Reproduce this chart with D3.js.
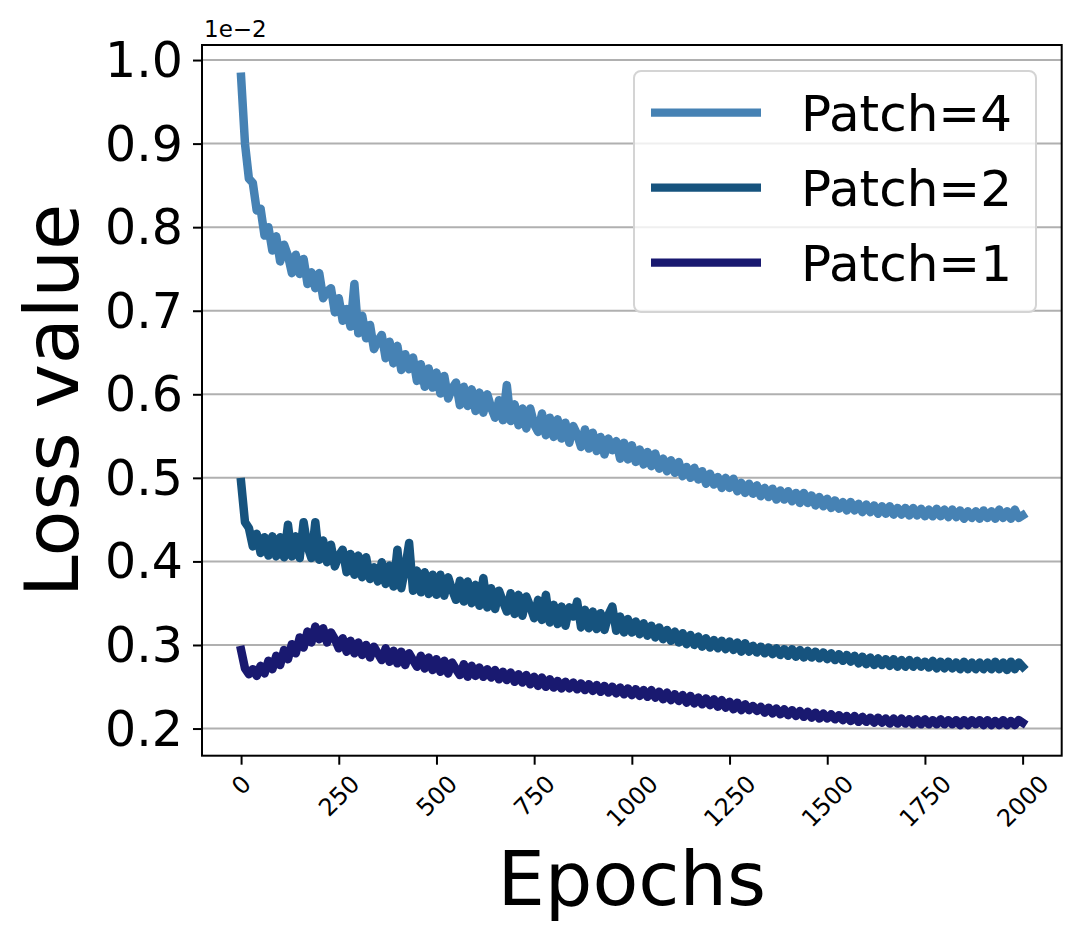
<!DOCTYPE html>
<html>
<head>
<meta charset="utf-8">
<script src="https://cdn.jsdelivr.net/npm/d3@7"></script>
<style>
  html, body { margin: 0; padding: 0; background: #fff; }
  svg { display: block; font-family: "DejaVu Sans", sans-serif; }
</style>
</head>
<body>
<svg id="chart" width="1080" height="941"></svg>
<script>
// ---- Data (loss values in units of 1e-2), sampled every 10 epochs ----
const epochStep = 10;
const seriesNames = ["Patch=4", "Patch=2", "Patch=1"];
const seriesColors = ["#4682b4", "#16537e", "#191970"];

const patch4 = [
0.980,0.900,0.858,0.853,0.820,0.822,0.790,0.800,0.772,0.789,
0.759,0.779,0.766,0.745,0.767,0.744,0.762,0.732,0.746,0.727,
0.745,0.715,0.723,0.727,0.698,0.715,0.688,0.702,0.681,0.732,
0.673,0.694,0.667,0.683,0.654,0.664,0.671,0.643,0.663,0.637,
0.658,0.629,0.648,0.630,0.644,0.616,0.636,0.609,0.631,0.608,
0.626,0.601,0.622,0.595,0.607,0.614,0.587,0.609,0.586,0.606,
0.580,0.602,0.578,0.600,0.584,0.572,0.593,0.569,0.611,0.568,
0.588,0.563,0.583,0.559,0.583,0.564,0.555,0.577,0.551,0.572,
0.549,0.570,0.547,0.566,0.542,0.562,0.552,0.537,0.558,0.535,
0.554,0.532,0.549,0.528,0.547,0.533,0.544,0.523,0.542,0.522,
0.539,0.519,0.534,0.516,0.531,0.514,0.529,0.511,0.523,0.508,
0.521,0.506,0.519,0.502,0.513,0.500,0.512,0.498,0.508,0.493,
0.505,0.492,0.501,0.488,0.500,0.488,0.499,0.484,0.494,0.482,
0.493,0.481,0.491,0.478,0.488,0.477,0.487,0.474,0.485,0.474,
0.484,0.472,0.482,0.470,0.482,0.470,0.479,0.467,0.477,0.466,
0.475,0.464,0.473,0.463,0.471,0.461,0.471,0.461,0.469,0.459,
0.468,0.459,0.467,0.457,0.466,0.457,0.466,0.456,0.464,0.456,
0.464,0.455,0.464,0.455,0.463,0.454,0.462,0.454,0.463,0.454,
0.462,0.453,0.462,0.453,0.461,0.451,0.460,0.452,0.460,0.451,
0.461,0.452,0.460,0.451,0.462,0.452,0.460,0.451,0.462,0.452,
0.455];

const patch2 = [
0.495,0.447,0.440,0.418,0.433,0.410,0.429,0.407,0.430,0.406,
0.429,0.405,0.444,0.406,0.430,0.404,0.447,0.418,0.404,0.447,
0.402,0.425,0.399,0.420,0.394,0.407,0.414,0.387,0.409,0.384,
0.407,0.381,0.405,0.379,0.393,0.376,0.399,0.373,0.395,0.370,
0.414,0.368,0.392,0.422,0.365,0.389,0.363,0.387,0.361,0.384,
0.360,0.384,0.359,0.381,0.366,0.354,0.377,0.352,0.376,0.350,
0.372,0.347,0.380,0.345,0.368,0.343,0.365,0.352,0.340,0.362,
0.337,0.360,0.335,0.358,0.346,0.332,0.354,0.330,0.360,0.327,
0.348,0.325,0.346,0.323,0.345,0.334,0.352,0.321,0.342,0.320,
0.340,0.319,0.338,0.318,0.336,0.346,0.317,0.334,0.315,0.331,
0.315,0.328,0.313,0.326,0.311,0.323,0.309,0.321,0.307,0.318,
0.305,0.316,0.303,0.314,0.301,0.312,0.300,0.310,0.298,0.308,
0.297,0.306,0.296,0.305,0.295,0.304,0.294,0.303,0.292,0.302,
0.292,0.299,0.291,0.298,0.290,0.297,0.289,0.296,0.288,0.295,
0.287,0.295,0.286,0.294,0.285,0.293,0.285,0.292,0.284,0.291,
0.283,0.290,0.282,0.289,0.281,0.288,0.280,0.287,0.278,0.286,
0.277,0.285,0.276,0.284,0.276,0.283,0.275,0.283,0.274,0.282,
0.274,0.282,0.274,0.281,0.274,0.280,0.273,0.281,0.272,0.280,
0.272,0.280,0.272,0.279,0.271,0.280,0.271,0.279,0.271,0.279,
0.271,0.279,0.271,0.280,0.271,0.279,0.270,0.280,0.271,0.279,
0.274];

const patch1 = [
0.294,0.272,0.265,0.271,0.263,0.275,0.266,0.281,0.271,0.287,
0.276,0.294,0.283,0.301,0.290,0.309,0.297,0.316,0.303,0.322,
0.307,0.320,0.303,0.315,0.307,0.296,0.308,0.292,0.305,0.290,
0.303,0.288,0.300,0.285,0.298,0.290,0.282,0.296,0.280,0.293,
0.278,0.292,0.276,0.290,0.282,0.274,0.287,0.272,0.285,0.270,
0.283,0.268,0.281,0.266,0.279,0.271,0.264,0.277,0.262,0.275,
0.263,0.273,0.262,0.271,0.261,0.270,0.259,0.268,0.258,0.267,
0.256,0.265,0.255,0.264,0.253,0.262,0.251,0.261,0.250,0.259,
0.249,0.257,0.248,0.256,0.248,0.255,0.247,0.254,0.246,0.253,
0.245,0.252,0.244,0.251,0.243,0.250,0.242,0.249,0.241,0.248,
0.240,0.247,0.239,0.246,0.238,0.246,0.237,0.244,0.235,0.243,
0.234,0.241,0.233,0.240,0.231,0.239,0.230,0.237,0.229,0.236,
0.228,0.235,0.226,0.234,0.225,0.232,0.223,0.231,0.222,0.229,
0.222,0.227,0.221,0.226,0.219,0.225,0.218,0.224,0.217,0.223,
0.216,0.222,0.215,0.221,0.214,0.220,0.213,0.219,0.212,0.218,
0.212,0.217,0.211,0.216,0.210,0.215,0.209,0.215,0.208,0.214,
0.208,0.213,0.207,0.213,0.207,0.212,0.206,0.212,0.206,0.212,
0.206,0.211,0.205,0.211,0.205,0.211,0.205,0.210,0.205,0.211,
0.205,0.210,0.205,0.210,0.204,0.210,0.204,0.210,0.205,0.210,
0.204,0.210,0.204,0.209,0.204,0.210,0.204,0.209,0.204,0.210,
0.207];

const xTicks = [0, 250, 500, 750, 1000, 1250, 1500, 1750, 2000];
const yTicks = [0.2, 0.3, 0.4, 0.5, 0.6, 0.7, 0.8, 0.9, 1.0];
const yOffsetLabel = "1e\u22122";
const xLabel = "Epochs";
const yLabel = "Loss value";

// ---- Layout ----
const plot = { left: 202, top: 45, right: 1061.7, bottom: 755.7 };
const svg = d3.select("#chart");

const x = d3.scaleLinear().domain([-100, 2100]).range([plot.left, plot.right]);
const y = d3.scaleLinear().domain([0.1675, 1.018]).range([plot.bottom, plot.top]);

// grid
svg.append("g").selectAll("line").data(yTicks).join("line")
  .attr("x1", plot.left).attr("x2", plot.right)
  .attr("y1", d => y(d)).attr("y2", d => y(d))
  .attr("stroke", "#b0b0b0").attr("stroke-width", 2);

// clip
svg.append("clipPath").attr("id", "clip").append("rect")
  .attr("x", plot.left).attr("y", plot.top)
  .attr("width", plot.right - plot.left).attr("height", plot.bottom - plot.top);

const seriesData = [patch4, patch2, patch1];
const line = d3.line().x((d, i) => x(i * epochStep)).y(d => y(d));
const linesG = svg.append("g").attr("clip-path", "url(#clip)");
seriesData.forEach((s, k) => {
  linesG.append("path").datum(s)
    .attr("d", line)
    .attr("fill", "none")
    .attr("stroke", seriesColors[k])
    .attr("stroke-width", 8.5)
    .attr("stroke-linejoin", "round")
    .attr("stroke-linecap", "square");
});

// axes
const xAxis = d3.axisBottom(x).tickValues(xTicks).tickSize(9).tickPadding(8).tickFormat(d3.format("d"));
const gx = svg.append("g").attr("transform", `translate(0,${plot.bottom})`).call(xAxis);
gx.select(".domain").remove();
gx.selectAll(".tick line").attr("stroke", "#000").attr("stroke-width", 2);
gx.selectAll(".tick text").attr("font-size", 24).attr("fill", "#000")
  .attr("font-family", "DejaVu Sans")
  .each(function() {
    const t = d3.select(this);
    const w = this.getComputedTextLength();
    const h = 24 * 0.95;
    const ext = (w + h) / (2 * Math.SQRT2);
    t.attr("y", null).attr("dy", null)
     .attr("text-anchor", "middle")
     .attr("dominant-baseline", "central")
     .attr("transform", `translate(0,${9 + 7 + ext}) rotate(-45)`);
  });

const yAxis = d3.axisLeft(y).tickValues(yTicks).tickSize(9).tickPadding(10).tickFormat(d3.format(".1f"));
const gy = svg.append("g").attr("transform", `translate(${plot.left},0)`).call(yAxis);
gy.select(".domain").remove();
gy.selectAll(".tick line").attr("stroke", "#000").attr("stroke-width", 2);
gy.selectAll(".tick text").attr("font-size", 49).attr("fill", "#000")
  .attr("font-family", "DejaVu Sans")
  .attr("dy", null).attr("dominant-baseline", "central");

// frame
svg.append("rect")
  .attr("x", plot.left).attr("y", plot.top)
  .attr("width", plot.right - plot.left).attr("height", plot.bottom - plot.top)
  .attr("fill", "none").attr("stroke", "#000").attr("stroke-width", 2);

// offset text
svg.append("text").attr("x", 204).attr("y", 37).attr("font-size", 23).text(yOffsetLabel);

// axis labels
svg.append("text").attr("x", (plot.left + plot.right) / 2).attr("y", 905)
  .attr("text-anchor", "middle").attr("font-size", 75).text(xLabel);
svg.append("text")
  .attr("transform", `translate(78,${(plot.top + plot.bottom) / 2}) rotate(-90)`)
  .attr("text-anchor", "middle").attr("font-size", 75).text(yLabel);

// legend
const leg = svg.append("g");
leg.append("rect").attr("x", 634).attr("y", 71).attr("width", 402).attr("height", 241)
  .attr("rx", 7).attr("fill", "#fff").attr("fill-opacity", 0.8)
  .attr("stroke", "#d4d4d4").attr("stroke-width", 2);
seriesNames.forEach((name, k) => {
  const cy = 112.7 + 75 * k;
  leg.append("line").attr("x1", 651).attr("x2", 761).attr("y1", cy).attr("y2", cy)
    .attr("stroke", seriesColors[k]).attr("stroke-width", 8.3);
  leg.append("text").attr("x", 801).attr("y", cy + 18.5).attr("font-size", 50).text(name);
});
</script>
</body>
</html>
